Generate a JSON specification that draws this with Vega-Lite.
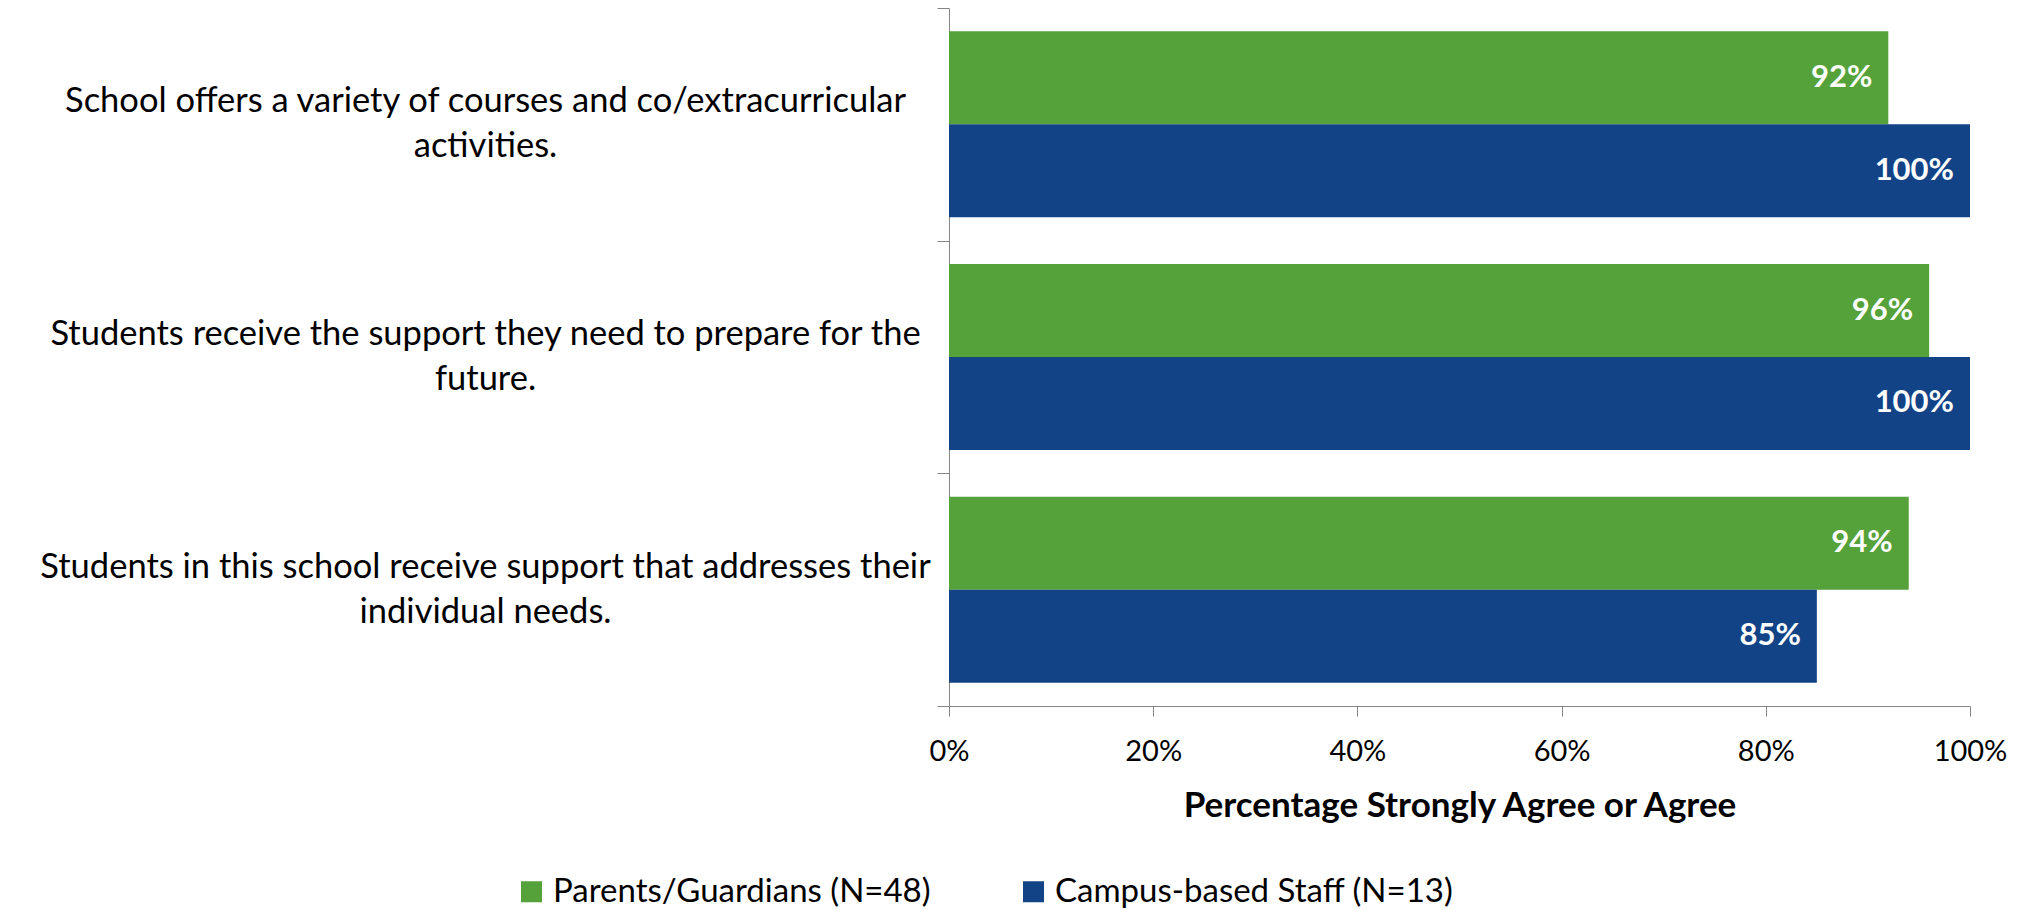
{
  "$schema": "https://vega.github.io/schema/vega-lite/v6.json",
  "width": 1021,
  "height": 698,
  "autosize": {"type": "none"},
  "padding": {"left": 949, "top": 8, "right": 60, "bottom": 204},
  "background": "white",
  "config": {"font": "Lato", "view": {"stroke": null}},
  "data": {
    "values": [
      {"q": "School offers a variety of courses and co/extracurricular|activities.", "group": "Parents/Guardians (N=48)", "value": 0.92},
      {"q": "School offers a variety of courses and co/extracurricular|activities.", "group": "Campus-based Staff (N=13)", "value": 1.0},
      {"q": "Students receive the support they need to prepare for the|future.", "group": "Parents/Guardians (N=48)", "value": 0.96},
      {"q": "Students receive the support they need to prepare for the|future.", "group": "Campus-based Staff (N=13)", "value": 1.0},
      {"q": "Students in this school receive support that addresses their|individual needs.", "group": "Parents/Guardians (N=48)", "value": 0.94},
      {"q": "Students in this school receive support that addresses their|individual needs.", "group": "Campus-based Staff (N=13)", "value": 0.85}
    ]
  },
  "encoding": {
    "y": {
      "field": "q",
      "type": "nominal",
      "sort": null,
      "scale": {"paddingInner": 0, "paddingOuter": 0},
      "axis": {
        "title": null,
        "domainColor": "#868686",
        "tickColor": "#868686",
        "tickSize": 12,
        "tickBand": "extent",
        "labelAlign": "center",
        "labelBaseline": "middle",
        "labelPadding": 452,
        "labelOffset": -22.5,
        "labelFont": "Lato",
        "labelFontSize": 34.5,
        "labelColor": "black",
        "labelLimit": 0,
        "labelLineHeight": 45,
        "labelExpr": "datum.value ? split(datum.value, '|') : ''"
      }
    },
    "yOffset": {
      "field": "group",
      "type": "nominal",
      "sort": ["Parents/Guardians (N=48)", "Campus-based Staff (N=13)"],
      "scale": {"paddingInner": 0, "paddingOuter": 0.251}
    },
    "x": {
      "field": "value",
      "type": "quantitative",
      "scale": {"domain": [0, 1], "nice": false},
      "axis": {
        "values": [0, 0.2, 0.4, 0.6, 0.8, 1],
        "format": ".0%",
        "grid": false,
        "domainColor": "#868686",
        "tickColor": "#868686",
        "tickSize": 10,
        "labelPadding": 21,
        "labelFontSize": 29,
        "labelColor": "black",
        "labelFlush": false,
        "labelOverlap": false,
        "title": "Percentage Strongly Agree or Agree",
        "titleFontSize": 35,
        "titleFontWeight": "bold",
        "titleColor": "black",
        "titleY": 99,
        "titleBaseline": "middle"
      }
    }
  },
  "layer": [
    {
      "mark": {"type": "bar"},
      "encoding": {
        "color": {
          "field": "group",
          "type": "nominal",
          "scale": {"domain": ["Parents/Guardians (N=48)", "Campus-based Staff (N=13)"], "range": ["#55A13A", "#134387"]},
          "legend": {
            "title": null,
            "orient": "none",
            "direction": "horizontal",
            "legendX": -434,
            "legendY": 867,
            "padding": 0,
            "symbolType": "square",
            "symbolSize": 441,
            "symbolStrokeWidth": 0,
            "labelFontSize": 33,
            "labelColor": "black",
            "labelLimit": 0,
            "labelOffset": 5,
            "columnPadding": 86
          }
        }
      }
    },
    {
      "mark": {"type": "text", "align": "right", "baseline": "middle", "dx": -16, "fontWeight": "bold", "fontSize": 31, "color": "white"},
      "encoding": {
        "text": {"field": "value", "type": "quantitative", "format": ".0%"}
      }
    }
  ]
}
